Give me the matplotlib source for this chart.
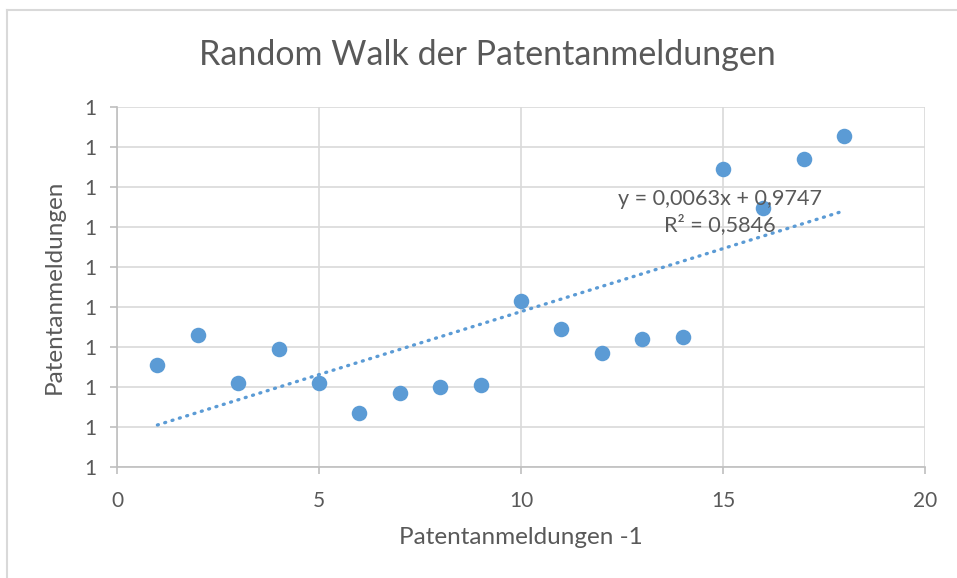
import numpy as np
import matplotlib
matplotlib.use("Agg")
import matplotlib.pyplot as plt
from matplotlib.ticker import FormatStrFormatter

plt.rcParams['font.family'] = ['Lato', 'DejaVu Sans']

# Patentanmeldungen (t-1) vs Patentanmeldungen (t)
x_vals = [1, 2, 3, 4, 5, 6, 7, 8, 9, 10, 11, 12, 13, 14, 15, 16, 17, 18]
y_vals = [1.011, 1.026, 1.0022, 1.019, 1.0022, 0.9872, 0.9972, 1.0002, 1.001,
          1.043, 1.029, 1.0172, 1.0242, 1.025, 1.1088, 1.0897, 1.1138, 1.1257]

# lineare Trendlinie (aus Excel)
slope = 0.0063
intercept = 0.9747
trend_text = "y = 0,0063x + 0,9747\nR² = 0,5846"

blue = "#5B9BD5"
txt = "#595959"
grid = "#D9D9D9"

fig = plt.figure(figsize=(9.57, 5.78), dpi=100)
ax = fig.add_axes([117 / 957, 1 - 467 / 578, 808 / 957, 360 / 578])

# Rahmen um das Diagramm
fig.add_artist(plt.Line2D([6.5 / 957, 6.5 / 957], [0, 1 - 9.5 / 578],
                          color=grid, lw=1.5, transform=fig.transFigure))
fig.add_artist(plt.Line2D([6.5 / 957, 1], [1 - 9.5 / 578, 1 - 9.5 / 578],
                          color=grid, lw=1.5, transform=fig.transFigure))

ax.scatter(x_vals, y_vals, s=125, color=blue, zorder=3, linewidths=0)

tx = np.array([x_vals[0], x_vals[-1]])
ax.plot(tx, slope * tx + intercept, color=blue, lw=2.4, linestyle=(0, (0.3, 2.0)),
        dash_capstyle="round", zorder=2)

ax.text(14.93, 1.0875, trend_text, ha="center", va="center", fontsize=15.6,
        color=txt, linespacing=1.35, zorder=4)

ax.set_xlim(0, 20)
ax.set_ylim(0.96, 1.14)
ax.set_xticks([0, 5, 10, 15, 20])
ax.set_yticks(np.arange(0.96, 1.1401, 0.02))
ax.yaxis.set_major_formatter(FormatStrFormatter("%.0f"))
ax.grid(True, color=grid, lw=1.2)
ax.set_axisbelow(True)

for s in ["top", "right"]:
    ax.spines[s].set_visible(False)
for s in ["left", "bottom"]:
    ax.spines[s].set_color("#BFBFBF")
    ax.spines[s].set_linewidth(1.2)
ax.tick_params(colors="#BFBFBF", labelcolor=txt, labelsize=15, length=5, width=1.2)
ax.tick_params(axis="x", pad=12)
ax.tick_params(axis="y", pad=10)

ax.set_xlabel("Patentanmeldungen -1", fontsize=17.5, color=txt, labelpad=12)
ax.set_ylabel("Patentanmeldungen", fontsize=17.5, color=txt, labelpad=14)
fig.text(487 / 957, 1 - 55 / 578, "Random Walk der Patentanmeldungen",
         ha="center", va="center", fontsize=24.5, color=txt)

fig.savefig("out.png", dpi=100)
